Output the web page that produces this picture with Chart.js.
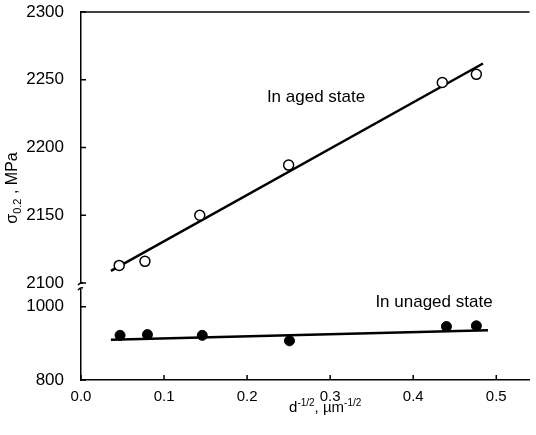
<!DOCTYPE html>
<html>
<head>
<meta charset="utf-8">
<script src="https://cdn.jsdelivr.net/npm/chart.js@4.4.0/dist/chart.umd.min.js"></script>
<style>
  html, body { margin: 0; padding: 0; background: #fff; }
  #wrap { width: 536px; height: 435px; }
</style>
</head>
<body>
<div id="wrap"><canvas id="grafico"></canvas></div>
<script>
// data
const xTicks = [0, 0.1, 0.2, 0.3, 0.4, 0.5];
const upperTicks = [2100, 2150, 2200, 2250, 2300];
const lowerTicks = [800, 1000];

const agedX = [0.046, 0.077, 0.143, 0.250, 0.435, 0.476];
const agedY = [2113, 2116, 2150, 2187, 2248, 2254];
const unagedX = [0.047, 0.080, 0.146, 0.251, 0.440, 0.476];
const unagedY = [922, 924, 922, 907, 946, 948];

// fitted lines (end points)
const agedFitX = [0.036, 0.484];
const agedFitY = [2109, 2262];
const unagedFitX = [0.036, 0.490];
const unagedFitY = [910, 936];

const labels = ['In aged state', 'In unaged state'];

const font = '"Liberation Sans", Arial, sans-serif';
const pts = (xs, ys) => xs.map((x, i) => ({ x: x, y: ys[i] }));
const noPad = s => { s.paddingTop = 0; s.paddingBottom = 0; s.paddingLeft = 0; s.paddingRight = 0; };

// inward ticks, top frame, axis break, annotations, axis titles
const extras = {
  id: 'extras',
  afterDraw(chart) {
    const ctx = chart.ctx;
    const { x, y, y2 } = chart.scales;
    const area = chart.chartArea;
    ctx.save();
    ctx.strokeStyle = '#000';
    ctx.fillStyle = '#000';
    ctx.lineWidth = 1.5;

    // top frame line
    ctx.beginPath();
    ctx.moveTo(area.left, area.top);
    ctx.lineTo(area.right, area.top);
    ctx.stroke();

    // ticks pointing inside
    ctx.beginPath();
    xTicks.forEach(v => {
      const px = x.getPixelForValue(v);
      ctx.moveTo(px, area.bottom);
      ctx.lineTo(px, area.bottom - 5);
    });
    upperTicks.forEach(v => {
      const py = y.getPixelForValue(v);
      ctx.moveTo(area.left, py);
      ctx.lineTo(area.left + 5, py);
    });
    lowerTicks.forEach(v => {
      const py = y2.getPixelForValue(v);
      ctx.moveTo(area.left, py);
      ctx.lineTo(area.left + 5, py);
    });
    ctx.stroke();

    // axis break
    const by = y.bottom;
    ctx.fillStyle = '#fff';
    ctx.fillRect(area.left - 3, by + 1, 6, 5);
    ctx.fillStyle = '#000';
    ctx.beginPath();
    ctx.moveTo(area.left - 3, by + 2);
    ctx.quadraticCurveTo(area.left, by - 1, area.left + 2, by);
    ctx.moveTo(area.left - 3, by + 7);
    ctx.quadraticCurveTo(area.left, by + 4, area.left + 2, by + 5);
    ctx.stroke();

    // annotations
    ctx.font = '17px ' + font;
    ctx.textAlign = 'center';
    ctx.textBaseline = 'middle';
    ctx.fillText(labels[0], x.getPixelForValue(0.283), y.getPixelForValue(2237));
    ctx.fillText(labels[1], x.getPixelForValue(0.425), y2.getPixelForValue(1013));

    // x title: d^-1/2, µm^-1/2
    const tx = x.getPixelForValue(0.294), ty = area.bottom + 32;
    const parts = [['d', 0], ['-1/2', 1], [', \u00b5m', 0], ['-1/2', 1]];
    let w = 0;
    parts.forEach(p => { ctx.font = (p[1] ? '10px ' : '15px ') + font; w += ctx.measureText(p[0]).width; });
    let cx = tx - w / 2;
    ctx.textAlign = 'left';
    ctx.textBaseline = 'alphabetic';
    parts.forEach(p => {
      ctx.font = (p[1] ? '10px ' : '15px ') + font;
      ctx.fillText(p[0], cx, ty + (p[1] ? -6 : 0));
      cx += ctx.measureText(p[0]).width;
    });

    // y title: sigma_0.2 , MPa
    ctx.translate(17, 188);
    ctx.rotate(-Math.PI / 2);
    const yparts = [['\u03c3', 0], ['0.2', 1], [' , MPa', 0]];
    w = 0;
    yparts.forEach(p => { ctx.font = (p[1] ? '11px ' : '16px ') + font; w += ctx.measureText(p[0]).width; });
    cx = -w / 2;
    yparts.forEach(p => {
      ctx.font = (p[1] ? '11px ' : '16px ') + font;
      ctx.fillText(p[0], cx, p[1] ? 4 : 0);
      cx += ctx.measureText(p[0]).width;
    });
    ctx.restore();
  }
};

const grafico = document.getElementById('grafico');
new Chart(grafico, {
  type: 'scatter',
  data: {
    datasets: [
      {
        label: 'aged',
        data: pts(agedX, agedY),
        yAxisID: 'y',
        pointStyle: 'circle',
        pointRadius: 5,
        pointBackgroundColor: '#fff',
        pointBorderColor: '#000',
        pointBorderWidth: 1.5
      },
      {
        label: 'aged fit',
        type: 'line',
        data: pts(agedFitX, agedFitY),
        yAxisID: 'y',
        borderColor: '#000',
        borderWidth: 2.5,
        pointRadius: 0,
        fill: false
      },
      {
        label: 'unaged',
        data: pts(unagedX, unagedY),
        yAxisID: 'y2',
        pointStyle: 'circle',
        pointRadius: 5,
        pointBackgroundColor: '#000',
        pointBorderColor: '#000',
        pointBorderWidth: 1
      },
      {
        label: 'unaged fit',
        type: 'line',
        data: pts(unagedFitX, unagedFitY),
        yAxisID: 'y2',
        borderColor: '#000',
        borderWidth: 2.5,
        pointRadius: 0,
        fill: false
      }
    ]
  },
  options: {
    responsive: true,
    maintainAspectRatio: false,
    animation: false,
    layout: { padding: { top: 12, right: 0, left: 0, bottom: 0 } },
    plugins: { legend: { display: false }, tooltip: { enabled: false } },
    scales: {
      x: {
        type: 'linear',
        min: 0,
        max: 0.54,
        afterBuildTicks: s => { s.ticks = xTicks.map(v => ({ value: v })); },
        afterFit: s => { s.height = 55; noPad(s); },
        grid: { display: false },
        border: { display: true, color: '#000', width: 1.5 },
        ticks: {
          color: '#000',
          font: { family: font, size: 15 },
          padding: 0,
          maxRotation: 0,
          callback: v => v.toFixed(1)
        }
      },
      y: {
        type: 'linear',
        position: 'left',
        stack: 'left',
        stackWeight: 271,
        weight: 1,
        min: 2100,
        max: 2300,
        afterBuildTicks: s => { s.ticks = upperTicks.map(v => ({ value: v })); },
        afterFit: s => { s.width = 81; noPad(s); },
        grid: { display: false },
        border: { display: true, color: '#000', width: 1.5 },
        ticks: { color: '#000', font: { family: font, size: 17 }, padding: 9, callback: v => String(v) }
      },
      y2: {
        type: 'linear',
        position: 'left',
        stack: 'left',
        stackWeight: 97,
        weight: 0,
        min: 800,
        max: 1065,
        afterBuildTicks: s => { s.ticks = lowerTicks.map(v => ({ value: v })); },
        afterFit: s => { s.width = 81; noPad(s); },
        grid: { display: false },
        border: { display: true, color: '#000', width: 1.5 },
        ticks: { color: '#000', font: { family: font, size: 17 }, padding: 9, callback: v => String(v) }
      }
    }
  },
  plugins: [extras]
});
</script>
</body>
</html>
